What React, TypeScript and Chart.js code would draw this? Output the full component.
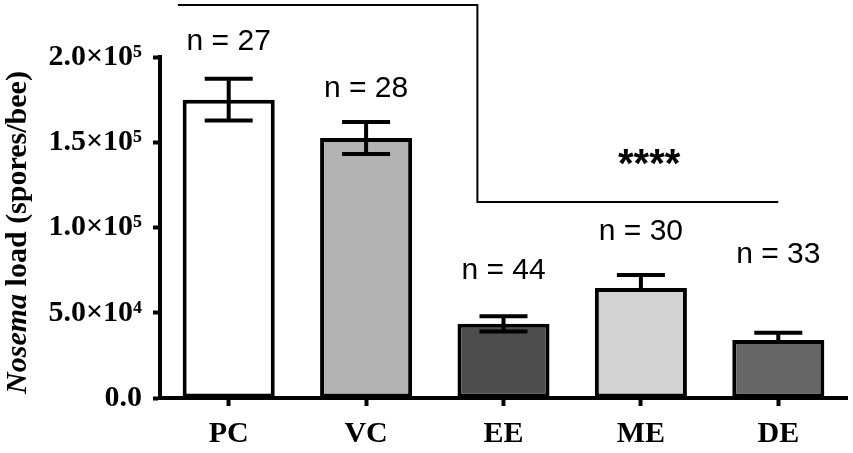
import { useEffect, useRef } from "react";
import { Chart, registerables } from "chart.js";

Chart.register(...registerables);

const categories = ["PC", "VC", "EE", "ME", "DE"];
const meanLoad = [175000, 152500, 43500, 64500, 34000];
const semLoad = [12300, 9400, 4500, 7700, 4200];
const lowerErrorShown = [true, true, true, false, false];
const barColors = ["#ffffff", "#b3b3b3", "#4d4d4d", "#d3d3d3", "#666666"];
const sampleSizes = [27, 28, 44, 30, 33];
const sampleLabelY = [204100, 176500, 69800, 92700, 79200];
const yTickValues = [0, 50000, 100000, 150000, 200000];
const yTickLabels = ["0.0", "5.0×10⁴", "1.0×10⁵", "1.5×10⁵", "2.0×10⁵"];
const bracketLevels = [230500, 115000];
const bracketIndices = [-0.37, 1.81, 4];
const starsText = "****";
const starsIndex = 3.06;
const starsY = 129500;
const yTitleItalic = "Nosema";
const yTitleRest = " load (spores/bee)";

const SERIF = "'Liberation Serif', 'Times New Roman', serif";
const SANS = "'Liberation Sans', Arial, sans-serif";

const overlayPlugin = {
  id: "overlay",
  afterDatasetsDraw(chart: any) {
    const ctx = chart.ctx;
    const xs = chart.scales.x;
    const ys = chart.scales.y;
    ctx.save();
    ctx.strokeStyle = "#000";
    ctx.lineWidth = 4;
    ctx.lineCap = "butt";
    meanLoad.forEach((m, i) => {
      const cx = xs.getPixelForValue(i);
      const top = ys.getPixelForValue(m + semLoad[i]);
      const bottom = lowerErrorShown[i]
        ? ys.getPixelForValue(m - semLoad[i])
        : ys.getPixelForValue(m);
      const half = 24;
      ctx.beginPath();
      ctx.moveTo(cx, top);
      ctx.lineTo(cx, bottom);
      ctx.moveTo(cx - half, top);
      ctx.lineTo(cx + half, top);
      if (lowerErrorShown[i]) {
        ctx.moveTo(cx - half, bottom);
        ctx.lineTo(cx + half, bottom);
      }
      ctx.stroke();
    });
    ctx.restore();
  },
  afterDraw(chart: any) {
    const ctx = chart.ctx;
    const xs = chart.scales.x;
    const ys = chart.scales.y;
    ctx.save();
    // n labels
    ctx.fillStyle = "#000";
    ctx.font = `30px ${SANS}`;
    ctx.textAlign = "center";
    ctx.textBaseline = "alphabetic";
    sampleSizes.forEach((n, i) => {
      ctx.fillText(`n = ${n}`, xs.getPixelForValue(i), ys.getPixelForValue(sampleLabelY[i]));
    });
    // bracket
    const xA = xs.getPixelForValue(bracketIndices[0]);
    const xB = xs.getPixelForValue(bracketIndices[1]);
    const xC = xs.getPixelForValue(bracketIndices[2]);
    const yTop = ys.getPixelForValue(bracketLevels[0]);
    const yLow = ys.getPixelForValue(bracketLevels[1]);
    ctx.strokeStyle = "#000";
    ctx.lineWidth = 2;
    ctx.beginPath();
    ctx.moveTo(xA, yTop);
    ctx.lineTo(xB, yTop);
    ctx.lineTo(xB, yLow);
    ctx.lineTo(xC, yLow);
    ctx.stroke();
    // stars
    ctx.font = `bold 40px ${SANS}`;
    ctx.fillText(starsText, xs.getPixelForValue(starsIndex), ys.getPixelForValue(starsY));
    // y title
    ctx.translate(26, (ys.top + ys.bottom) / 2 + 5);
    ctx.rotate(-Math.PI / 2);
    const fItal = `italic bold 30px ${SERIF}`;
    const fBold = `bold 30px ${SERIF}`;
    ctx.font = fItal;
    const w1 = ctx.measureText(yTitleItalic).width;
    ctx.font = fBold;
    const w2 = ctx.measureText(yTitleRest).width;
    const start = -(w1 + w2) / 2;
    ctx.textAlign = "left";
    ctx.font = fItal;
    ctx.fillText(yTitleItalic, start, 0);
    ctx.font = fBold;
    ctx.fillText(yTitleRest, start + w1, 0);
    ctx.restore();
  },
};

export default function App() {
  const canvasRef = useRef<HTMLCanvasElement | null>(null);

  useEffect(() => {
    if (!canvasRef.current) return;
    const chart = new Chart(canvasRef.current, {
      type: "bar",
      data: {
        labels: categories,
        datasets: [
          {
            data: meanLoad,
            backgroundColor: barColors,
            borderColor: "#000",
            borderWidth: 4,
            borderSkipped: false,
            categoryPercentage: 1,
            barPercentage: 0.67,
          },
        ],
      },
      options: {
        animation: false,
        responsive: true,
        maintainAspectRatio: false,
        layout: { padding: { top: 57, right: 6, bottom: 0, left: 0 } },
        plugins: {
          legend: { display: false },
          tooltip: { enabled: false },
        },
        scales: {
          x: {
            afterFit: (s: any) => {
              s.height = 55;
            },
            grid: {
              display: true,
              drawOnChartArea: false,
              drawTicks: true,
              offset: false,
              tickLength: 8,
              tickWidth: 4,
              tickColor: "#000",
            },
            border: { display: true, color: "#000", width: 4 },
            ticks: {
              color: "#000",
              padding: 10,
              font: { family: SERIF, size: 30, weight: "bold" },
            },
          },
          y: {
            min: 0,
            max: 200000,
            afterFit: (s: any) => {
              s.width = 160;
            },
            afterBuildTicks: (s: any) => {
              s.ticks = yTickValues.map((v) => ({ value: v }));
            },
            grid: {
              display: true,
              drawOnChartArea: false,
              drawTicks: true,
              tickLength: 7,
              tickWidth: 4,
              tickColor: "#000",
            },
            border: { display: true, color: "#000", width: 4 },
            ticks: {
              color: "#000",
              padding: 11,
              font: { family: SERIF, size: 30, weight: "bold" },
              callback: (_v: any, i: number) => yTickLabels[i],
            },
          },
        },
      },
      plugins: [overlayPlugin],
    });
    return () => chart.destroy();
  }, []);

  return (
    <div style={{ position: "fixed", left: 0, top: 0, width: 853, height: 453 }}>
      <canvas ref={canvasRef} />
    </div>
  );
}
